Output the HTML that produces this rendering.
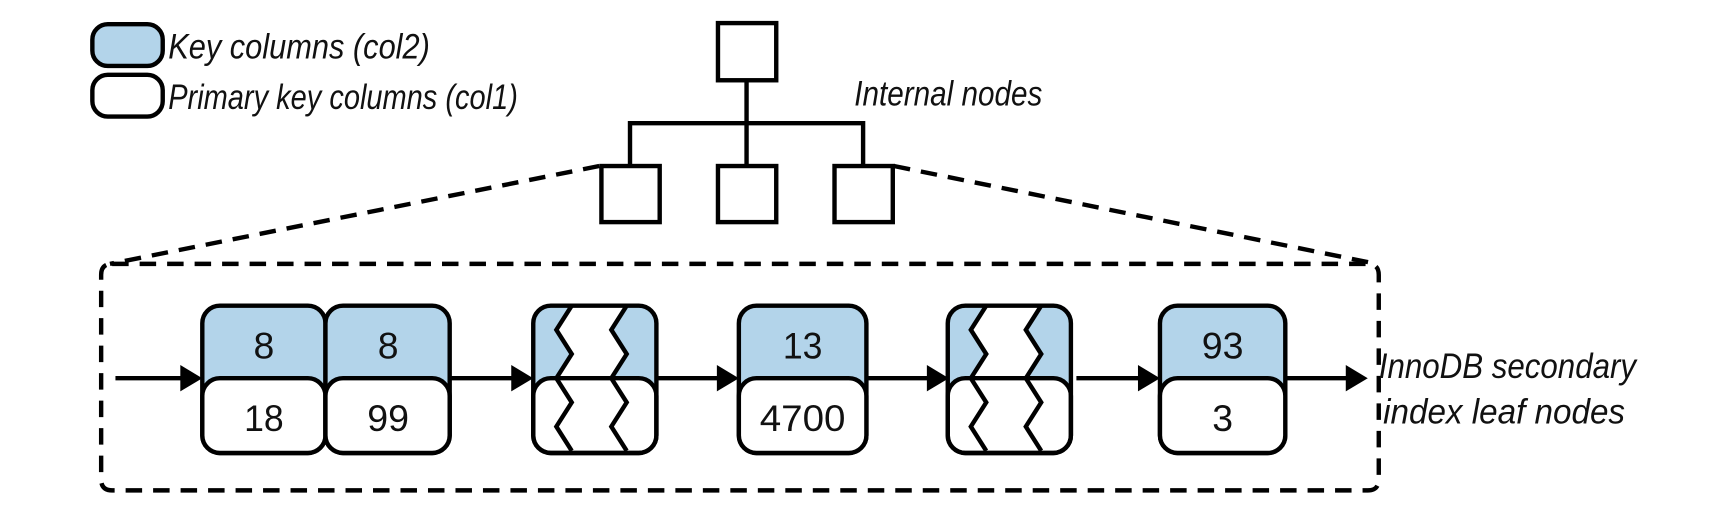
<!DOCTYPE html>
<html><head><meta charset="utf-8"><style>
html,body{margin:0;padding:0;background:#fff;}
svg{display:block}
text{font-family:"Liberation Sans Narrow","Liberation Sans",sans-serif;fill:#111}
.it{font-style:italic}
</style></head><body>
<svg width="1724" height="516" viewBox="0 0 1568 469.3" preserveAspectRatio="none" xmlns="http://www.w3.org/2000/svg">
<!-- legend -->
<rect x="84" y="22" width="64" height="38" rx="14" fill="#b3d4ea" stroke="#000" stroke-width="4"/>
<rect x="84" y="68" width="64" height="38" rx="14" fill="#fff" stroke="#000" stroke-width="4"/>
<text class="it" x="153" y="53" font-size="32" textLength="238" lengthAdjust="spacingAndGlyphs">Key columns (col2)</text>
<text class="it" x="153" y="99" font-size="32" textLength="318" lengthAdjust="spacingAndGlyphs">Primary key columns (col1)</text>
<!-- tree -->
<g fill="#fff" stroke="#000" stroke-width="4">
<rect x="653" y="21" width="53" height="52"/>
<rect x="547" y="151" width="53" height="51"/>
<rect x="653" y="151" width="53" height="51"/>
<rect x="759" y="151" width="53" height="51"/>
</g>
<path d="M679 73V112M573 151V112H785V151M679 112V151" fill="none" stroke="#000" stroke-width="4"/>
<text class="it" x="777" y="96" font-size="32" textLength="171" lengthAdjust="spacingAndGlyphs">Internal nodes</text>
<!-- dashed -->
<g fill="none" stroke="#000" stroke-width="4" stroke-dasharray="15,10">
<path d="M545 151L100 240"/>
<path d="M813 151L1252 240"/>
<path d="M102 240H1244Q1254 240 1254 250V436Q1254 446 1244 446H102Q92 446 92 436V250Q92 240 102 240Z"/>
</g>
<!-- arrows -->
<g stroke="#000" stroke-width="4">
<line x1="105" y1="344" x2="168" y2="344"/>
<line x1="410" y1="344" x2="469" y2="344"/>
<line x1="597" y1="344" x2="656" y2="344"/>
<line x1="788" y1="344" x2="847" y2="344"/>
<line x1="979" y1="344" x2="1039" y2="344"/>
<line x1="1169" y1="344" x2="1228" y2="344"/>
</g>
<g fill="#000">
<path d="M184 344L164 332V356Z"/>
<path d="M485 344L465 332V356Z"/>
<path d="M672 344L652 332V356Z"/>
<path d="M863 344L843 332V356Z"/>
<path d="M1055 344L1035 332V356Z"/>
<path d="M1244 344L1224 332V356Z"/>
</g>
<!-- node cells -->
<g stroke="#000" stroke-width="4">
<rect x="184" y="278" width="112" height="134" rx="16" fill="#b3d4ea"/>
<rect x="184" y="344" width="112" height="68" rx="16" fill="#fff"/>
<rect x="296" y="278" width="113" height="134" rx="16" fill="#b3d4ea"/>
<rect x="296" y="344" width="113" height="68" rx="16" fill="#fff"/>
<rect x="672" y="278" width="116" height="134" rx="16" fill="#b3d4ea"/>
<rect x="672" y="344" width="116" height="68" rx="16" fill="#fff"/>
<rect x="1055" y="278" width="114" height="134" rx="16" fill="#b3d4ea"/>
<rect x="1055" y="344" width="114" height="68" rx="16" fill="#fff"/>
</g>
<!-- zigzag nodes -->
<g id="z1">
<rect x="485" y="278" width="112" height="134" rx="16" fill="#b3d4ea"/>
<path d="M520 278L506 300L520 322L506 344L556 344L570 322L556 300L570 278Z" fill="#fff"/>
<rect x="485" y="344" width="112" height="68" rx="16" fill="#fff" stroke="#000" stroke-width="4"/>
<path d="M520 278L506 300L520 322L506 344L520 366L506 388L520 410" fill="none" stroke="#000" stroke-width="4"/>
<path d="M570 278L556 300L570 322L556 344L570 366L556 388L570 410" fill="none" stroke="#000" stroke-width="4"/>
<rect x="485" y="278" width="112" height="134" rx="16" fill="none" stroke="#000" stroke-width="4"/>
</g>
<use href="#z1" x="377"/>
<!-- numbers -->
<g font-size="34" text-anchor="middle">
<text x="240" y="326">8</text>
<text x="353" y="326">8</text>
<text x="240" y="392" textLength="36" lengthAdjust="spacingAndGlyphs">18</text>
<text x="353" y="392" textLength="38" lengthAdjust="spacingAndGlyphs">99</text>
<text x="730" y="326" textLength="36" lengthAdjust="spacingAndGlyphs">13</text>
<text x="730" y="392" textLength="78" lengthAdjust="spacingAndGlyphs">4700</text>
<text x="1112" y="326" textLength="38" lengthAdjust="spacingAndGlyphs">93</text>
<text x="1112" y="392">3</text>
</g>
<text class="it" x="1254" y="344" font-size="32" textLength="234" lengthAdjust="spacingAndGlyphs">InnoDB secondary</text>
<text class="it" x="1258" y="385" font-size="32" textLength="220" lengthAdjust="spacingAndGlyphs">index leaf nodes</text>
</svg>
</body></html>
